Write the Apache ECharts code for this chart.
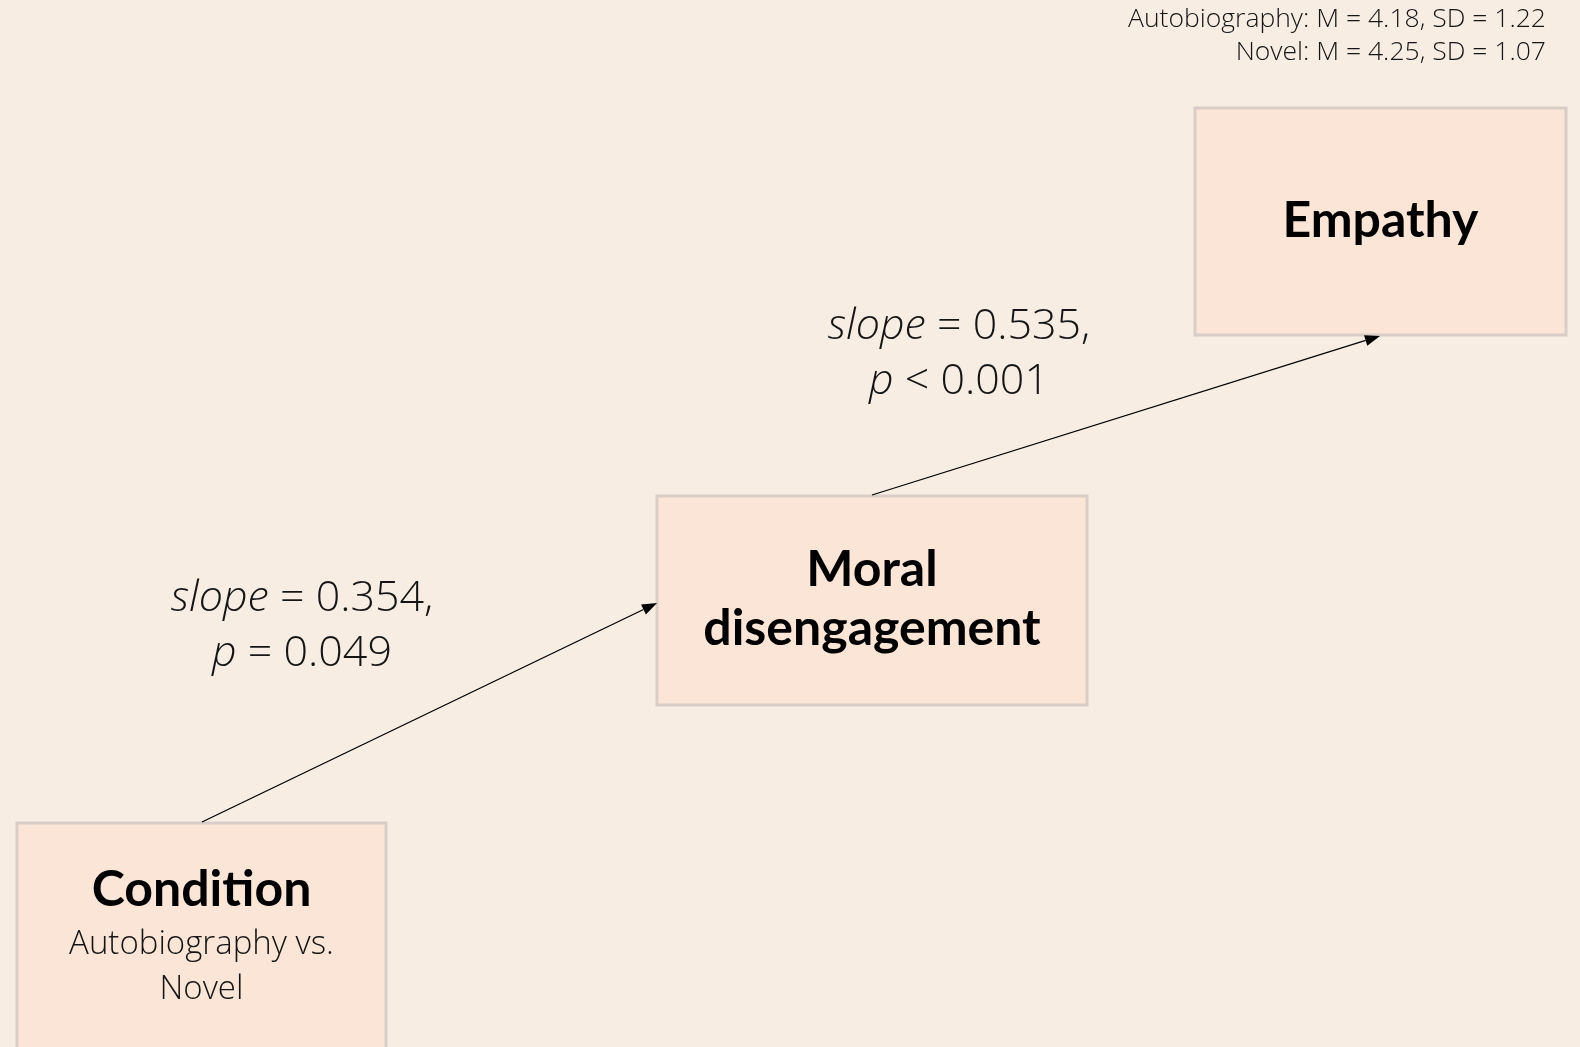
<!DOCTYPE html>
<html><head><meta charset="utf-8">
<script src="https://cdn.jsdelivr.net/npm/echarts@6/dist/echarts.min.js"></script>
<style>html,body{margin:0;padding:0;background:#f8ede3;} #c{width:1580px;height:1047px;}</style>
</head><body><div id="c"></div>
<script>
// ---- data ----
const nodeTitles = ['Condition', 'Moral\ndisengagement', 'Empathy'];
const nodeSubtitles = ['Autobiography vs.\nNovel', '', ''];
const pathFrom = [0, 1];
const pathTo = [1, 2];
const pathSlopes = ['0.354', '0.535'];
const pathPOps = ['=', '<'];
const pathPValues = ['0.049', '0.001'];
const groupNames = ['Autobiography', 'Novel'];
const groupMeans = ['4.18', '4.25'];
const groupSDs = ['1.22', '1.07'];

// ---- layout (diagram positions) ----
const boxRects = [[17, 823, 369, 262], [657, 496, 430, 209], [1195, 108, 371, 227]];
const titleCenterY = [890, 599, 221];
const subCenterY = [967, 0, 0];
const arrowStart = [[202, 822], [872, 495]];
const arrowEnd = [[657, 603], [1380, 336]];
const labelCenter = [[302, 626], [959, 354]];

const BG = '#f8ede3', FILL = '#fae5d6', STROKE = '#d9cec7';
const boldFont = 'bold 50px Lato';
const lightFamily = '"Open Sans"';
const TXT = '#151515';

const boxData = nodeTitles.map((t, i) => [boxRects[i][0], boxRects[i][1], boxRects[i][2], boxRects[i][3], i]);
const arrowData = pathFrom.map((f, i) => [arrowStart[i][0], arrowStart[i][1], arrowEnd[i][0], arrowEnd[i][1], i]);
const labelData = pathFrom.map((f, i) => [labelCenter[i][0], labelCenter[i][1], i]);

const chart = echarts.init(document.getElementById('c'));
chart.setOption({
  backgroundColor: BG,
  animation: false,
  grid: {left: 0, right: 0, top: 0, bottom: 0},
  xAxis: {type: 'value', min: 0, max: 1580, show: false},
  yAxis: {type: 'value', min: 0, max: 1047, inverse: true, show: false},
  graphic: [{
    type: 'text', right: 34, top: 3,
    style: {
      text: groupNames.map((g, i) => g + ': M = ' + groupMeans[i] + ', SD = ' + groupSDs[i]).join('\n'),
      textAlign: 'right', fill: TXT,
      font: '300 26.5px ' + lightFamily, lineHeight: 33
    }
  }],
  series: [
    {
      type: 'custom', coordinateSystem: 'cartesian2d', data: boxData, z: 2,
      renderItem: function (params, api) {
        const i = api.value(4);
        const p = api.coord([api.value(0), api.value(1)]);
        const s = api.size([api.value(2), api.value(3)]);
        const cx = p[0] + s[0] / 2;
        const children = [{
          type: 'rect', shape: {x: p[0], y: p[1], width: s[0], height: s[1]},
          style: {fill: FILL, stroke: STROKE, lineWidth: 3}
        }, {
          type: 'text', x: cx, y: api.coord([0, titleCenterY[i]])[1],
          style: {text: nodeTitles[i], textAlign: 'center', textVerticalAlign: 'middle',
            font: boldFont, lineHeight: 59, fill: '#000'}
        }];
        if (nodeSubtitles[i]) {
          children.push({
            type: 'text', x: cx, y: api.coord([0, subCenterY[i]])[1],
            style: {text: nodeSubtitles[i], textAlign: 'center', textVerticalAlign: 'middle',
              font: '300 33px ' + lightFamily, lineHeight: 45, fill: TXT}
          });
        }
        return {type: 'group', children: children};
      }
    },
    {
      type: 'custom', coordinateSystem: 'cartesian2d', data: arrowData, z: 3,
      renderItem: function (params, api) {
        const a = api.coord([api.value(0), api.value(1)]);
        const b = api.coord([api.value(2), api.value(3)]);
        const ang = Math.atan2(b[1] - a[1], b[0] - a[0]);
        const L = 15, W = 5.5;
        const bx = b[0] - L * Math.cos(ang), by = b[1] - L * Math.sin(ang);
        const nx = -Math.sin(ang), ny = Math.cos(ang);
        return {type: 'group', children: [
          {type: 'line', shape: {x1: a[0], y1: a[1], x2: bx, y2: by}, style: {stroke: '#000', lineWidth: 1.3}},
          {type: 'polygon', shape: {points: [[b[0], b[1]], [bx + nx * W, by + ny * W], [bx - nx * W, by - ny * W]]},
            style: {fill: '#000'}}
        ]};
      }
    },
    {
      type: 'custom', coordinateSystem: 'cartesian2d', data: labelData, z: 3,
      renderItem: function (params, api) {
        const i = api.value(2);
        const p = api.coord([api.value(0), api.value(1)]);
        return {
          type: 'text', x: p[0], y: p[1],
          style: {
            text: '{i|slope}{n| = ' + pathSlopes[i] + ',}\n{i|p}{n| ' + pathPOps[i] + ' ' + pathPValues[i] + '}',
            textAlign: 'center', textVerticalAlign: 'middle', fill: TXT,
            font: '300 43px ' + lightFamily, lineHeight: 55,
            rich: {
              i: {fontStyle: 'italic', fontWeight: 300, fontFamily: lightFamily, fontSize: 43, lineHeight: 55, fill: TXT},
              n: {fontWeight: 300, fontFamily: lightFamily, fontSize: 43, lineHeight: 55, fill: TXT}
            }
          }
        };
      }
    }
  ]
});
</script>
</body></html>
